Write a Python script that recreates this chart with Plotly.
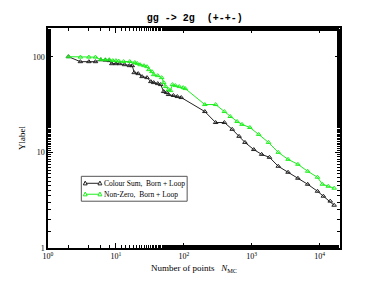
import plotly.graph_objects as go

title_text = "gg -> 2g  (+-+-)"

# Colour Sum, Born + Loop
cs_x = [2, 3, 4, 5, 6, 7, 8, 8.7, 10, 11.3, 13.4, 15.8, 17.4, 18.6, 21.3, 24.3, 28.7, 32.7, 36, 41.3,
        45.6, 50.5, 55.7, 59.6, 70.3, 80.3, 91.7, 204, 294, 396, 516, 651, 795, 1072, 1400, 1824,
        2460, 3429, 4786, 6670, 9300, 11350, 14320, 16360]
cs_y = [100, 88.7, 88.7, 88.7, 93, 92, 91, 84.5, 84.5, 84.5, 82.5, 80.6, 80.6, 68.1, 66.5, 61.9, 60.4,
        54.9, 53.6, 52.3, 51.1, 43.2, 42.2, 40.2, 39.3, 38.3, 37.4, 26.7, 20.5, 20.5, 17.4, 14.7, 12.7,
        10.7, 9.53, 8.87, 7.15, 6.19, 5.36, 4.64, 3.92, 3.48, 3.09, 2.8]

# Non-Zero, Born + Loop
nz_x = [2, 3, 4, 5, 6, 7, 8, 9, 10, 11, 13, 16, 19, 20.6, 22.7, 25.9, 28.7, 30.6, 33.9, 36, 41.3,
        47.2, 50.5, 54, 59.6, 63.7, 68, 75.2, 85.9, 98, 105, 204, 294, 396, 483, 610, 719, 939,
        1266, 1766, 2460, 3429, 4786, 6670, 9300, 10970, 13390, 16360]
nz_y = [100, 99, 99, 99, 93, 93, 93, 91, 91, 90, 89, 89, 87, 85, 82.5, 80.6, 78.7, 73.2, 69.8, 64.9,
        63.4, 60.4, 53.6, 48.7, 45.3, 44.2, 51.1, 49.9, 48.7, 47.5, 46.4, 31.6, 31.6, 26.7, 23.7,
        21.0, 19.6, 18.2, 15.4, 12.7, 10.0, 8.45, 7.5, 6.34, 5.49, 4.64, 4.42, 4.22]

series_names = ["Colour Sum,  Born + Loop", "Non-Zero,  Born + Loop"]
series_colors = ["#222222", "#1ef01e"]

x_tickvals = [1, 10, 100, 1000, 10000]
x_ticktext = ["10<sup>0</sup>", "10<sup>1</sup>", "10<sup>2</sup>", "10<sup>3</sup>", "10<sup>4</sup>"]
y_tickvals = [1, 10, 100]
y_ticktext = ["1", "10", "100"]

serif = "Liberation Serif, Times New Roman, serif"

fig = go.Figure()
for xs, ys, name, col in [(cs_x, cs_y, series_names[0], series_colors[0]),
                          (nz_x, nz_y, series_names[1], series_colors[1])]:
    fig.add_trace(go.Scatter(
        x=xs, y=ys, mode="lines+markers", name=name, showlegend=False,
        line=dict(color=col, width=1),
        marker=dict(symbol="triangle-up-open", size=4, color=col, line=dict(width=1)),
    ))

axis_common = dict(
    type="log", showgrid=False, zeroline=False, showline=True, linecolor="black", linewidth=1.5,
    ticks="inside", ticklen=5, tickwidth=1, tickcolor="black", mirror="allticks",
    tickfont=dict(family=serif, size=8, color="black"),
    minor=dict(ticks="inside", ticklen=3, tickwidth=1, tickcolor="black", showgrid=False),
)

# ---- hand-drawn legend box (paper coordinates, given in screen pixels) ----
PW, PH, L, B = 298.0, 221.0, 42.0, 249.0
def px(x):
    return (x - L) / PW
def py(y):
    return (B - y) / PH

shapes = [dict(type="rect", xref="paper", yref="paper", x0=px(76), x1=px(184), y0=py(202), y1=py(177),
               line=dict(color="#555555", width=1), fillcolor="white", layer="above")]
annotations = []
for row_y, name, col in [(184, series_names[0], series_colors[0]), (195, series_names[1], series_colors[1])]:
    shapes.append(dict(type="line", xref="paper", yref="paper", x0=px(80), x1=px(95),
                       y0=py(row_y), y1=py(row_y), line=dict(color=col, width=1), layer="above"))
    for cx in (80, 95):
        path = "M {:.4f},{:.4f} L {:.4f},{:.4f} L {:.4f},{:.4f} Z".format(
            px(cx - 2), py(row_y + 1.6), px(cx + 2), py(row_y + 1.6), px(cx), py(row_y - 2.2))
        shapes.append(dict(type="path", xref="paper", yref="paper", path=path,
                           line=dict(color=col, width=1), fillcolor="white", layer="above"))
    annotations.append(dict(xref="paper", yref="paper", x=px(97.5), y=py(row_y), text=name,
                            showarrow=False, xanchor="left", yanchor="middle",
                            font=dict(family=serif, size=7.5, color="black")))

# page body has an 8px default margin, so the figure is offset by (8, 8)
fig.update_layout(
    width=359, height=276,
    margin=dict(l=34, r=27, t=20, b=35),
    paper_bgcolor="white", plot_bgcolor="white",
    title=dict(text="<b>" + title_text + "</b>", x=0.52, xanchor="center", y=0.966, yanchor="middle",
               font=dict(family="Liberation Mono, Courier New, monospace", size=10, color="black")),
    xaxis=dict(axis_common, range=[0, 4.3], tickvals=x_tickvals, ticktext=x_ticktext,
               title=dict(text="Number of points   <i>N</i><sub>MC</sub>", standoff=4,
                          font=dict(family=serif, size=9, color="black"))),
    yaxis=dict(axis_common, range=[0, 2.3], tickvals=y_tickvals, ticktext=y_ticktext,
               title=dict(text="Ylabel", standoff=6, font=dict(family=serif, size=9, color="black"))),
    showlegend=False,
    shapes=shapes,
    annotations=annotations,
)

fig.write_html("out.html")
